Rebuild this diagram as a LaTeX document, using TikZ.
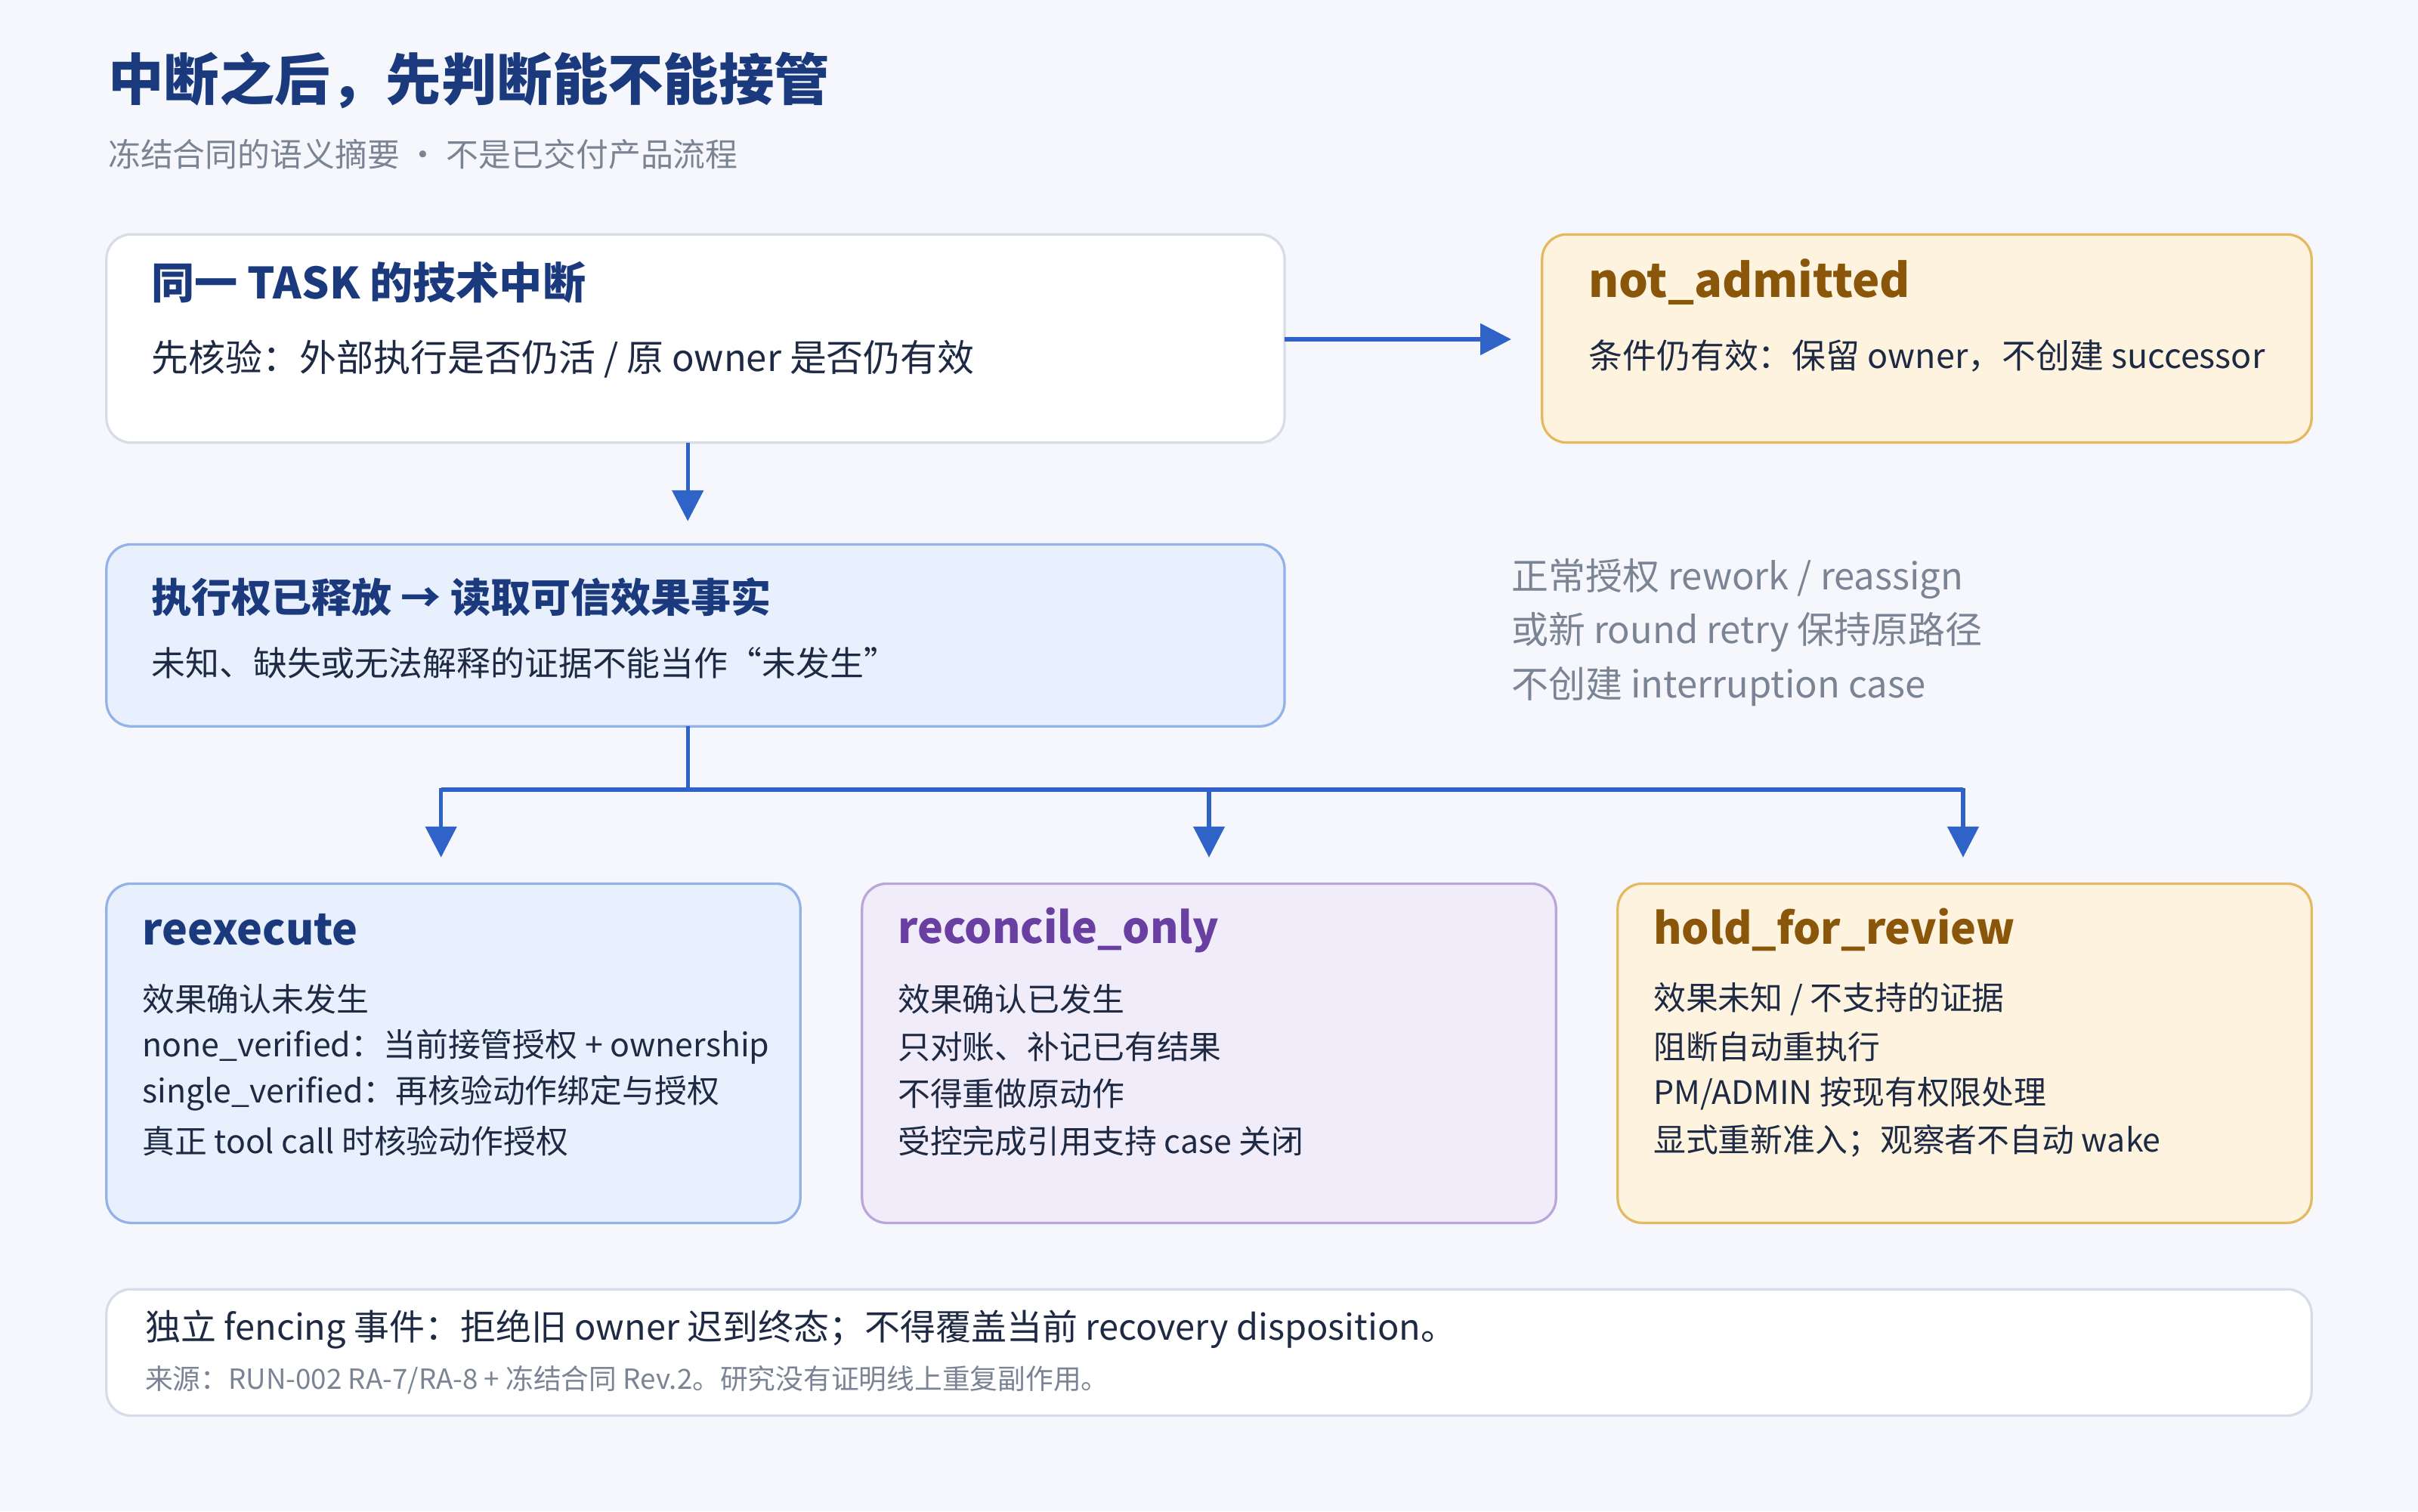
\documentclass[tikz,border=0pt]{standalone}
\usepackage{fontspec}
\setmainfont{Noto Sans CJK SC}
\usetikzlibrary{arrows.meta}
\definecolor{bg}{HTML}{F5F7FC}
\definecolor{navy}{HTML}{1B3A7E}
\definecolor{txt}{HTML}{1E2A44}
\definecolor{gr}{HTML}{7A8494}
\definecolor{arr}{HTML}{2F63C8}
\definecolor{ylf}{HTML}{FDF3DF}\definecolor{yld}{HTML}{E5B960}\definecolor{brn}{HTML}{8A560A}
\definecolor{blf}{HTML}{E9F0FD}\definecolor{bld}{HTML}{93B2E8}
\definecolor{puf}{HTML}{F1ECFA}\definecolor{pud}{HTML}{BBA6DA}\definecolor{pur}{HTML}{6A3FA2}
\definecolor{wd}{HTML}{D6DDE9}
\tikzset{x=1pt,y=-1pt,
 box/.style={rounded corners=16pt,line width=1.6pt},
 t/.style={anchor=west,inner sep=0pt,font=\fontsize{22}{26}\selectfont,text=txt},
 h/.style={anchor=west,inner sep=0pt,font=\fontsize{28}{32}\selectfont\bfseries},
 s/.style={anchor=west,inner sep=0pt,font=\fontsize{21}{25}\selectfont,text=txt},
 ar/.style={draw=arr,line width=2.6pt,-{Triangle[length=20pt,width=20pt]}},
 ln/.style={draw=arr,line width=2.6pt}}
\begin{document}
\begin{tikzpicture}
\fill[bg] (0,0) rectangle (1568,980);
\useasboundingbox (0,0) rectangle (1568,980);
\node[anchor=west,inner sep=0pt,font=\fontsize{36}{40}\selectfont\bfseries,text=navy] (title) at (70,52) {中断之后，先判断能不能接管};
\node[anchor=west,inner sep=0pt,font=\fontsize{21}{25}\selectfont,text=gr] (sub) at (70,100) {冻结合同的语义摘要 · 不是已交付产品流程};
% box1
\draw[box,fill=white,draw=wd] (69,152) rectangle (833,287);
\node[h,text=navy] (b1t) at (98,183) {同一 TASK 的技术中断};
\node[t,font=\fontsize{24}{28}\selectfont] (b1s) at (98,233) {先核验：外部执行是否仍活 / 原 owner 是否仍有效};
% not admitted
\draw[box,fill=ylf,draw=yld] (1000,152) rectangle (1499,287);
\node[h,text=brn,font=\fontsize{30}{34}\selectfont\bfseries] (nat) at (1030,183) {not\_admitted};
\node[t] (nas) at (1030,231) {条件仍有效：保留 owner，不创建 successor};
\coordinate (a1s) at (833,220); \coordinate (a1e) at (980,220);
\draw[ar] (a1s) -- (a1e);
\coordinate (a2s) at (446,287); \coordinate (a2e) at (446,338);
\draw[ar] (a2s) -- (a2e);
% box2
\draw[box,fill=blf,draw=bld] (69,353) rectangle (833,471);
\node[h,text=navy,font=\fontsize{26}{30}\selectfont\bfseries] (b2t) at (98,387) {执行权已释放 → 读取可信效果事实};
\node[t] (b2s) at (98,430) {未知、缺失或无法解释的证据不能当作“未发生”};
\node[anchor=north west,inner sep=0pt,align=left,font=\fontsize{24}{35}\selectfont,text=gr] (note) at (980,362) {正常授权 rework / reassign\\或新 round retry 保持原路径\\不创建 interruption case};
% connectors
\coordinate (j0) at (446,471); \coordinate (j1) at (446,512);
\coordinate (l) at (286,512); \coordinate (r) at (1273,512);
\draw[ln] (j0) -- (j1); \draw[ln] (l) -- (r);
\foreach \x in {286,784,1273}{\draw[ar] (\x,511) -- (\x,556);}
% three boxes
\draw[box,fill=blf,draw=bld] (69,573) rectangle (519,793);
\draw[box,fill=puf,draw=pud] (559,573) rectangle (1009,793);
\draw[box,fill=ylf,draw=yld] (1049,573) rectangle (1499,793);
\node[h,text=navy] (c1) at (92,603) {reexecute};
\node[h,text=pur] (c2) at (582,603) {reconcile\_only};
\node[h,text=brn] (c3) at (1072,603) {hold\_for\_review};
\node[s] (c1a) at (92,648) {效果确认未发生};
\node[s] (c1b) at (92,679) {none\_verified：当前接管授权 + ownership};
\node[s] (c1c) at (92,709) {single\_verified：再核验动作绑定与授权};
\node[s] (c1d) at (92,740) {真正 tool call 时核验动作授权};
\node[s] (c2a) at (582,648) {效果确认已发生};
\node[s] (c2b) at (582,679) {只对账、补记已有结果};
\node[s] (c2c) at (582,709) {不得重做原动作};
\node[s] (c2d) at (582,740) {受控完成引用支持 case 关闭};
\node[s] (c3a) at (1072,648) {效果未知 / 不支持的证据};
\node[s] (c3b) at (1072,679) {阻断自动重执行};
\node[s] (c3c) at (1072,709) {PM/ADMIN 按现有权限处理};
\node[s] (c3d) at (1072,740) {显式重新准入；观察者不自动 wake};
% bottom
\draw[box,fill=white,draw=wd] (69,836) rectangle (1499,918);
\node[t,font=\fontsize{23}{27}\selectfont] (f1) at (94,862) {独立 fencing 事件：拒绝旧 owner 迟到终态；不得覆盖当前 recovery disposition。};
\node[anchor=west,inner sep=0pt,font=\fontsize{18}{22}\selectfont,text=gr] (f2) at (94,895) {来源：RUN-002 RA-7/RA-8 + 冻结合同 Rev.2。研究没有证明线上重复副作用。};
\end{tikzpicture}
\end{document}
